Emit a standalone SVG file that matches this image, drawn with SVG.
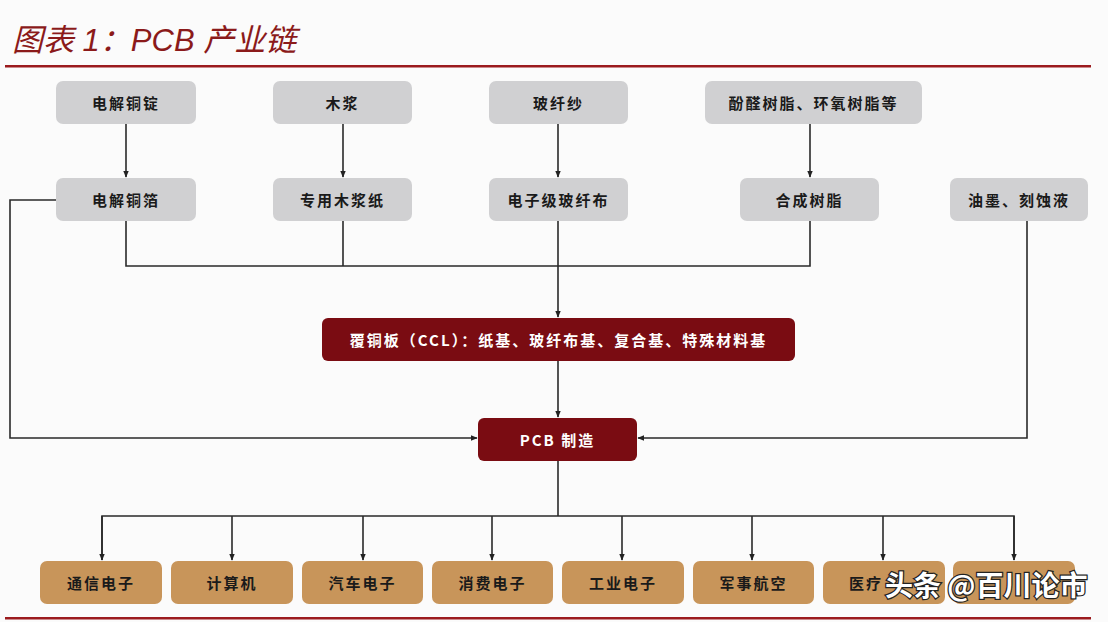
<svg xmlns="http://www.w3.org/2000/svg" width="1108" height="622" viewBox="0 0 1108 622">
<defs>
<marker id="arr" viewBox="0 0 10 10" refX="9" refY="5" markerWidth="7" markerHeight="7" orient="auto" markerUnits="userSpaceOnUse"><path d="M0,1 L10,5 L0,9 z" fill="#222"/></marker>
<style>
.g{fill:#d0d0d2}
.r{fill:#7a0c12}
.t{fill:#c8955a}
.tx{font-family:"Noto Sans CJK SC","Liberation Sans",sans-serif;font-size:15px;font-weight:bold;fill:#1a1a1a;text-anchor:middle;dominant-baseline:central;letter-spacing:2px}
.wt{fill:#ffffff}
.c{fill:none;stroke:#2a2a2a;stroke-width:1.6}
.ca{fill:none;stroke:#2a2a2a;stroke-width:1.6;marker-end:url(#arr)}
</style>
</defs>
<rect width="1108" height="622" fill="#fbfbfb"/>
<text x="12" y="51" font-family="'Liberation Sans','Noto Sans CJK SC',sans-serif" font-size="31" font-style="italic" fill="#8b1a1a">图表 1：PCB 产业链</text>
<rect x="5" y="65" width="1086" height="2.5" fill="#9b1b1e"/>
<rect x="5" y="617" width="1086" height="2.5" fill="#9b1b1e"/>

<g id="connectors">
<path class="ca" d="M126,124 V177"/>
<path class="ca" d="M343,124 V177"/>
<path class="ca" d="M558,124 V177"/>
<path class="ca" d="M810,124 V177"/>
<path class="c" d="M126,221 V266 H810 V221"/>
<path class="c" d="M343,221 V266"/>
<path class="ca" d="M558,221 V317"/>
<path class="ca" d="M558,361 V417"/>
<path class="ca" d="M56,200 H10 V438 H477"/>
<path class="ca" d="M1027,221 V438 H638"/>
<path class="c" d="M558,461 V516"/>
<path class="c" d="M102,560 V516 H1014 V560"/>
<path class="ca" d="M102,516 V560"/>
<path class="ca" d="M232,516 V560"/>
<path class="ca" d="M363,516 V560"/>
<path class="ca" d="M492,516 V560"/>
<path class="ca" d="M622,516 V560"/>
<path class="ca" d="M752,516 V560"/>
<path class="ca" d="M883,516 V560"/>
<path class="ca" d="M1014,516 V560"/>
</g>

<g id="n1"><rect class="g" x="56" y="81" width="140" height="43" rx="7"/><text class="tx" x="126" y="102.5">电解铜锭</text></g>
<g id="n2"><rect class="g" x="273" y="81" width="139" height="43" rx="7"/><text class="tx" x="342.5" y="102.5">木浆</text></g>
<g id="n3"><rect class="g" x="489" y="81" width="139" height="43" rx="7"/><text class="tx" x="558.5" y="102.5">玻纤纱</text></g>
<g id="n4"><rect class="g" x="705" y="81" width="217" height="43" rx="7"/><text class="tx" x="813.5" y="102.5">酚醛树脂、环氧树脂等</text></g>

<g id="n5"><rect class="g" x="56" y="178" width="140" height="43" rx="7"/><text class="tx" x="126" y="199.5">电解铜箔</text></g>
<g id="n6"><rect class="g" x="273" y="178" width="139" height="43" rx="7"/><text class="tx" x="342.5" y="199.5">专用木浆纸</text></g>
<g id="n7"><rect class="g" x="489" y="178" width="139" height="43" rx="7"/><text class="tx" x="558.5" y="199.5">电子级玻纤布</text></g>
<g id="n8"><rect class="g" x="740" y="178" width="139" height="43" rx="7"/><text class="tx" x="809.5" y="199.5">合成树脂</text></g>
<g id="n9"><rect class="g" x="950" y="178" width="138" height="43" rx="7"/><text class="tx" x="1019" y="199.5">油墨、刻蚀液</text></g>

<g id="ccl"><rect class="r" x="322" y="318" width="473" height="43" rx="6"/><text class="tx wt" x="558.5" y="339.5">覆铜板（CCL）：纸基、玻纤布基、复合基、特殊材料基</text></g>
<g id="pcb"><rect class="r" x="478" y="418" width="159" height="43" rx="6"/><text class="tx wt" x="557.5" y="439.5">PCB 制造</text></g>

<g id="b1"><rect class="t" x="40" y="561" width="122" height="43" rx="7"/><text class="tx" x="101" y="582.5">通信电子</text></g>
<g id="b2"><rect class="t" x="171" y="561" width="122" height="43" rx="7"/><text class="tx" x="232" y="582.5">计算机</text></g>
<g id="b3"><rect class="t" x="302" y="561" width="121" height="43" rx="7"/><text class="tx" x="362.5" y="582.5">汽车电子</text></g>
<g id="b4"><rect class="t" x="432" y="561" width="121" height="43" rx="7"/><text class="tx" x="492.5" y="582.5">消费电子</text></g>
<g id="b5"><rect class="t" x="562" y="561" width="122" height="43" rx="7"/><text class="tx" x="623" y="582.5">工业电子</text></g>
<g id="b6"><rect class="t" x="693" y="561" width="121" height="43" rx="7"/><text class="tx" x="753.5" y="582.5">军事航空</text></g>
<g id="b7"><rect class="t" x="823" y="561" width="122" height="43" rx="7"/><text class="tx" x="849" y="582.5" style="text-anchor:start">医疗</text></g>
<g id="b8"><rect class="t" x="953" y="561" width="122" height="43" rx="7"/></g>

<text x="885" y="596" font-family="'Noto Sans CJK SC',sans-serif" font-size="28" font-weight="bold" fill="#ffffff" stroke="#222" stroke-width="2.5" paint-order="stroke">头条 @百川论市</text>
</svg>
